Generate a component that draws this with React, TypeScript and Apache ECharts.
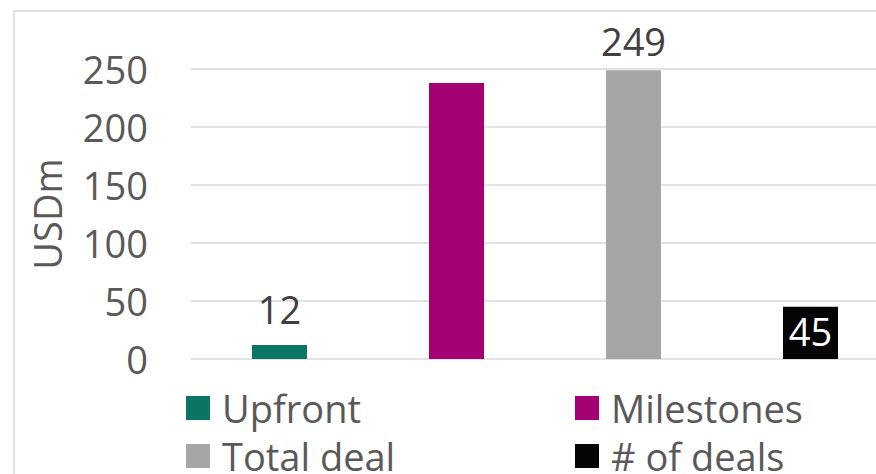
import React, { useEffect, useRef } from "react";
import * as echarts from "echarts";

const categories = ["Upfront", "Milestones", "Total deal", "# of deals"];
const seriesNames = ["Upfront", "Milestones", "Total deal", "# of deals"];
const values = [12, 238, 249, 45];
const colors = ["#0a7562", "#a50073", "#a6a6a6", "#050505"];
const showLabel = [true, false, true, true];
const yTicks = { min: 0, max: 250, interval: 50 };

export default function App() {
  const ref = useRef<HTMLDivElement>(null);
  useEffect(() => {
    if (!ref.current) return;
    const chart = echarts.init(ref.current, undefined, { renderer: "svg" });
    const font = "'Open Sans', 'Noto Sans', sans-serif";
    const labelDist = [17, 6, 10, 5];
    const series = seriesNames.map((name, i) => ({
      name,
      type: "bar" as const,
      stack: "all",
      barWidth: 55,
      data: categories.map((_, j) => (j === i ? values[i] : "-")),
      itemStyle: { color: colors[i] },
      label: {
        show: showLabel[i],
        position: i === 3 ? "insideTop" : "top",
        distance: labelDist[i],
        color: i === 3 ? "#ffffff" : "#404040",
        fontFamily: font,
        fontSize: 38,
      },
    }));
    const legendBase = {
      orient: "vertical",
      top: 384,
      height: 100,
      padding: 0,
      itemWidth: 24,
      itemHeight: 24,
      itemGap: 0,
      icon: "rect",
      textStyle: { color: "#595959", fontFamily: font, fontSize: 38, lineHeight: 48, padding: [0, 0, 0, 7] },
    };
    chart.setOption({
      animation: false,
      graphic: [
        {
          type: "rect",
          shape: { x: 14, y: 11, width: 900, height: 500 },
          style: { fill: "none", stroke: "#d9d9d9", lineWidth: 1.5 },
          silent: true,
        },
      ],
      grid: { left: 191, top: 69, width: 708, height: 290 },
      xAxis: {
        type: "category",
        data: categories,
        axisLine: { show: false },
        axisTick: { show: false },
        axisLabel: { show: false },
      },
      yAxis: {
        type: "value",
        min: yTicks.min,
        max: yTicks.max,
        interval: yTicks.interval,
        name: "USDm",
        nameLocation: "middle",
        nameGap: 125,
        nameTextStyle: { color: "#595959", fontFamily: font, fontSize: 38 },
        axisLabel: { color: "#595959", fontFamily: font, fontSize: 38, margin: 43 },
        splitLine: { lineStyle: { color: "#d9d9d9", width: 1.5 } },
        axisLine: { show: false },
        axisTick: { show: false },
      },
      legend: [
        { ...legendBase, data: ["Upfront", "Total deal"], left: 186 },
        { ...legendBase, data: ["Milestones", "# of deals"], left: 575 },
      ],
      series,
    });
    return () => chart.dispose();
  }, []);
  return (
    <div style={{ position: "fixed", left: 0, top: 0, width: 876, height: 474, overflow: "hidden", background: "#ffffff" }}>
      <div ref={ref} style={{ width: 920, height: 474 }} />
    </div>
  );
}
